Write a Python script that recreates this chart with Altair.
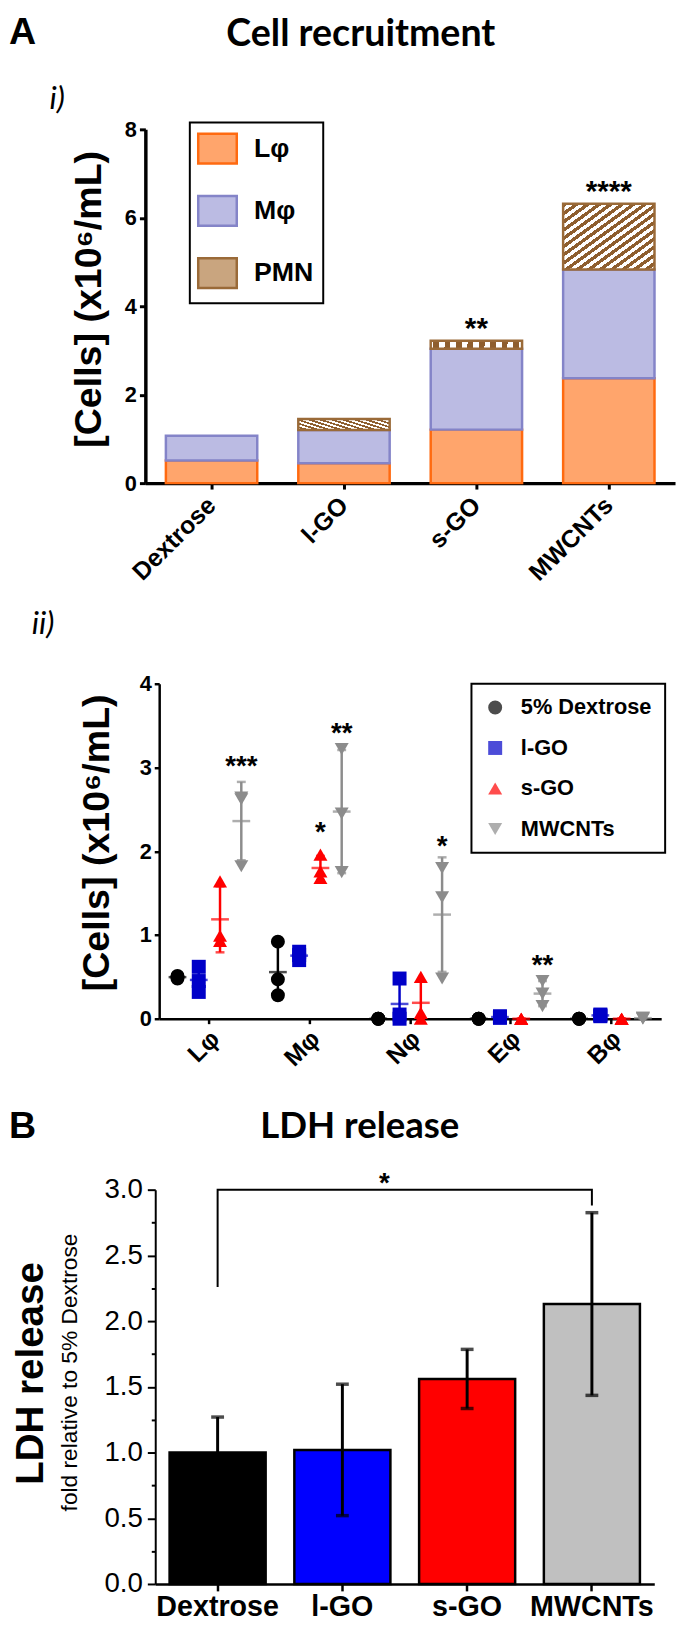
import altair as alt
import pandas as pd

# ---------------- data : panel A i) ----------------
a1_groups = ["Dextrose", "l-GO", "s-GO", "MWCNTs"]
a1_cells = ["Lφ", "Mφ", "PMN"]
a1_L = [0.51, 0.45, 1.21, 2.37]
a1_M = [0.56, 0.75, 1.83, 2.46]
a1_P = [0.00, 0.25, 0.18, 1.49]
a1_sig = ["", "", "**", "****"]
a1_ticks = [0, 2, 4, 6, 8]

# ---------------- data : panel A ii) ----------------
a2_cells = ["Lφ", "Mφ", "Nφ", "Eφ", "Bφ"]
a2_groups = ["5% Dextrose", "l-GO", "s-GO", "MWCNTs"]
a2_dex = [[0.50, 0.48, 0.51], [0.28, 0.92, 0.47], [0.0, 0.0, 0.0], [0.0, 0.0, 0.0], [0.0, 0.0, 0.0]]
a2_lgo = [[0.32, 0.62, 0.45], [0.80, 0.70, 0.76], [0.00, 0.48, 0.05], [0.02, 0.03, 0.01], [0.05, 0.04, 0.03]]
a2_sgo = [[0.93, 1.64, 0.99], [1.68, 1.96, 1.76], [0.00, 0.50, 0.07], [0.0, 0.0, 0.0], [0.0, 0.0, 0.0]]
a2_mw = [[2.64, 1.82, 2.62], [3.22, 2.45, 1.75], [1.80, 1.45, 0.48], [0.15, 0.45, 0.30], [0.01, 0.00, 0.01]]
a2_sig_cell = ["Lφ", "Mφ", "Mφ", "Nφ", "Eφ"]
a2_sig_group = ["MWCNTs", "s-GO", "MWCNTs", "MWCNTs", "MWCNTs"]
a2_sig_text = ["***", "*", "**", "*", "**"]
a2_sig_y = [3.10, 2.31, 3.49, 2.14, 0.72]
a2_ticks = [0, 1, 2, 3, 4]

# ---------------- data : panel B ----------------
b_groups = ["Dextrose", "l-GO", "s-GO", "MWCNTs"]
b_mean = [1.00, 1.02, 1.56, 2.13]
b_err = [0.27, 0.50, 0.225, 0.695]
b_ticks = [0, 0.25, 0.5, 0.75, 1.0, 1.25, 1.5, 1.75, 2.0, 2.25, 2.5, 2.75, 3.0]
b_br_group = ["Dextrose", "Dextrose", "MWCNTs", "MWCNTs"]
b_br_y = [2.26, 3.0, 3.0, 2.88]
b_star_y = [3.10]

# ---------------- styles ----------------
FONT = "Liberation Sans"
TFONT = "Lato"
W, H = 677, 1641
OX, OY = 8, 8


def px(x):
    return x - OX


def py(y):
    return y - OY


a1_fill = ["#FFA56C", "#BBBBE3", "#C9A57F"]
a1_stroke = ["#FF6A10", "#8484C8", "#9A6A38"]
a2_colors = ["#000000", "#0000C8", "#FF0000", "#8C8C8C"]
a2_shapes = ["circle", "square", "triangle-up", "triangle-down"]
b_colors = ["#000000", "#0000FF", "#FF0000", "#C0C0C0"]
BROWN = "#8E5E2E"


def stripe_stops(n):
    s = []
    for k in range(n):
        s += [
            {"offset": k / n, "color": BROWN},
            {"offset": (k + 0.5) / n, "color": BROWN},
            {"offset": (k + 0.5) / n, "color": "#FFFFFF"},
            {"offset": (k + 1) / n, "color": "#FFFFFF"},
        ]
    return s


pmn_grad = {"gradient": "linear", "x1": 0, "y1": 0, "x2": 1, "y2": 1, "stops": stripe_stops(16)}

# ================= PANEL A i) =================
rows = []
for i, g in enumerate(a1_groups):
    for j, vals in enumerate([a1_L, a1_M, a1_P]):
        rows.append({"group": g, "cell": a1_cells[j], "value": vals[i], "ord": j})
dfA1 = pd.DataFrame(rows)
dfA1sig = pd.DataFrame({
    "group": a1_groups,
    "label": a1_sig,
    "value": [a1_L[i] + a1_M[i] + a1_P[i] for i in range(4)],
})

xA1 = alt.Scale(domain=a1_groups, range=[px(147), px(683)], paddingInner=0.31, paddingOuter=0.155)
yA1 = alt.Scale(domain=[0, 8], range=[py(479), py(121)], nice=False)
axA1x = alt.Axis(title=None, orient="bottom", offset=py(479) - H, labelAngle=-45, labelAlign="right",
                 labelBaseline="middle", labelFont=FONT, labelFontSize=25, labelFontWeight="bold",
                 labelColor="black", labelPadding=12, tickSize=6, tickWidth=3, tickColor="black",
                 domainColor="black", domainWidth=3.5, grid=False, labelLimit=0, labelOverlap=False)
axA1y = alt.Axis(title=None, orient="left", offset=-px(147), values=a1_ticks, labelFont=FONT,
                 labelFontSize=22, labelFontWeight="bold", labelColor="black", labelPadding=3,
                 tickSize=6, tickWidth=3, tickColor="black", domainColor="black", domainWidth=3.5,
                 grid=False, labelOverlap=False)
legA1 = alt.Legend(title=None, orient="none", legendX=px(192), legendY=py(114), padding=10,
                   strokeColor="black", fillColor="white",
                   symbolType="M-1.2,-1H1.4V1H-1.2Z",
                   symbolSize=900, symbolStrokeWidth=2.5, labelFont=FONT, labelFontSize=27,
                   labelFontWeight="bold", labelColor="black", rowPadding=22, labelOffset=22,
                   labelLimit=0)

barsA1 = alt.Chart(dfA1).transform_filter("datum.value > 0").mark_bar(strokeWidth=2.5).encode(
    x=alt.X("group:N", scale=xA1, axis=axA1x),
    y=alt.Y("value:Q", stack="zero", scale=yA1, axis=axA1y),
    order=alt.Order("ord:Q", sort="ascending"),
    fill=alt.condition("datum.cell === 'PMN'", alt.value(pmn_grad),
                       alt.Fill("cell:N", scale=alt.Scale(domain=a1_cells, range=a1_fill), legend=legA1)),
    stroke=alt.Stroke("cell:N", scale=alt.Scale(domain=a1_cells, range=a1_stroke), legend=legA1),
)
sigA1 = alt.Chart(dfA1sig).mark_text(font=FONT, fontSize=30, fontWeight="bold", dy=-3,
                                     baseline="alphabetic", color="black").encode(
    x=alt.X("group:N", scale=xA1, axis=axA1x),
    y=alt.Y("value:Q", scale=yA1, axis=axA1y),
    text="label:N",
)
A1 = alt.layer(barsA1, sigA1)

# ================= PANEL A ii) =================
rows = []
for g, arr in zip(a2_groups, [a2_dex, a2_lgo, a2_sgo, a2_mw]):
    for ci, c in enumerate(a2_cells):
        for r, v in enumerate(arr[ci]):
            rows.append({"cell": c, "group": g, "rep": r, "value": v})
dfA2 = pd.DataFrame(rows)
dfA2sig = pd.DataFrame({"cell": a2_sig_cell, "group": a2_sig_group, "label": a2_sig_text, "value": a2_sig_y})

xA2 = alt.Scale(domain=a2_cells, range=[px(161), px(669)], paddingInner=0, paddingOuter=0)
xoA2 = alt.Scale(domain=a2_groups, paddingInner=0, paddingOuter=0.36)
yA2 = alt.Scale(domain=[0, 4], range=[py(1021), py(682)], nice=False)
axA2x = alt.Axis(title=None, orient="bottom", offset=py(1021) - H, labelAngle=-45, labelAlign="right",
                 labelBaseline="middle", labelFont=FONT, labelFontSize=25, labelFontWeight="bold",
                 labelColor="black", labelPadding=11, labelOffset=6, tickSize=5, tickWidth=2.5,
                 tickColor="black", domainColor="black", domainWidth=2.5, grid=False, labelLimit=0,
                 labelOverlap=False)
axA2y = alt.Axis(title=None, orient="left", offset=-px(161), values=a2_ticks, labelFont=FONT,
                 labelFontSize=22, labelFontWeight="bold", labelColor="black", labelPadding=3,
                 tickSize=5, tickWidth=2.5, tickColor="black", domainColor="black", domainWidth=2.5,
                 grid=False, labelOverlap=False)
legA2 = alt.Legend(title=None, orient="none", legendX=px(477), legendY=py(682), padding=13,
                   strokeColor="black", fillColor="white", symbolSize=200,
                   symbolStrokeWidth=0, labelFont=FONT, labelFontSize=22, labelFontWeight="bold",
                   labelColor="black", rowPadding=19, labelOffset=15, labelLimit=0)

X2 = alt.X("cell:N", scale=xA2, axis=axA2x)
XO2 = alt.XOffset("group:N", scale=xoA2)
clr_expr = "[" + ",".join("'%s'" % c for c in a2_colors) + "][indexof([" + \
    ",".join("'%s'" % g for g in a2_groups) + "], datum.group)]"

err = alt.Chart(dfA2).transform_aggregate(
    mean="mean(value)", sd="stdev(value)", groupby=["cell", "group"]
).transform_calculate(
    lo="max(0, datum.mean - datum.sd)", hi="datum.mean + datum.sd", clr=clr_expr
)
ruleA2 = err.mark_rule(strokeWidth=2.5).encode(
    x=X2, xOffset=XO2, y=alt.Y("lo:Q", scale=yA2, axis=axA2y), y2="hi:Q",
    color=alt.Color("clr:N", scale=None))
meanA2 = err.mark_tick(size=18, thickness=2.5).encode(
    x=X2, xOffset=XO2, y=alt.Y("mean:Q", scale=yA2, axis=axA2y), color=alt.Color("clr:N", scale=None))
hiA2 = err.mark_tick(size=9, thickness=2.5).encode(
    x=X2, xOffset=XO2, y=alt.Y("hi:Q", scale=yA2, axis=axA2y), color=alt.Color("clr:N", scale=None))
loA2 = err.mark_tick(size=9, thickness=2.5).encode(
    x=X2, xOffset=XO2, y=alt.Y("lo:Q", scale=yA2, axis=axA2y), color=alt.Color("clr:N", scale=None))

pts = []
for r, dx in enumerate([-5, 0, 5]):
    pts.append(
        alt.Chart(dfA2).transform_filter("datum.rep == %d" % r).mark_point(
            filled=True, size=200, opacity=1, xOffset=dx).encode(
            x=X2, xOffset=XO2, y=alt.Y("value:Q", scale=yA2, axis=axA2y),
            color=alt.Color("group:N", scale=alt.Scale(domain=a2_groups, range=a2_colors), legend=legA2),
            shape=alt.Shape("group:N", scale=alt.Scale(domain=a2_groups, range=a2_shapes), legend=legA2),
        )
    )
sigA2 = alt.Chart(dfA2sig).mark_text(font=FONT, fontSize=28, fontWeight="bold", dy=16,
                                     baseline="alphabetic", color="black").encode(
    x=X2, xOffset=XO2, y=alt.Y("value:Q", scale=yA2, axis=axA2y), text="label:N")
A2 = alt.layer(ruleA2, meanA2, hiA2, loA2, *pts, sigA2)

# ================= PANEL B =================
dfB = pd.DataFrame({"group": b_groups, "mean": b_mean, "err": b_err})
dfBbr = pd.DataFrame({"group": b_br_group, "mean": b_br_y, "ord": [0, 1, 2, 3]})
dfBstar = pd.DataFrame({"mean": b_star_y, "label": ["*"]})

B_TOP, B_BOT = 1194, 1593
xB = alt.Scale(domain=b_groups, range=[px(157), px(662)], paddingInner=0.23, paddingOuter=0.115)
yB = alt.Scale(domain=[0, 3], range=[py(B_BOT), py(B_TOP)], nice=False)
axBx = alt.Axis(title=None, orient="bottom", offset=py(B_BOT) - H, labelAngle=0, labelFont=FONT,
                labelFontSize=29, labelFontWeight="bold", labelColor="black", labelPadding=2,
                tickSize=7, tickWidth=2.5, tickColor="black", domainColor="black", domainWidth=2.5,
                grid=False, labelLimit=0, labelOverlap=False)
axBy = alt.Axis(title=None, orient="left", offset=-px(157), values=b_ticks,
                labelExpr="datum.value % 0.5 === 0 ? format(datum.value, '.1f') : ''",
                tickSize={"condition": {"test": "datum.value % 0.5 !== 0", "value": 4}, "value": 8},
                labelFont=FONT, labelFontSize=28,
                labelColor="black", labelPadding=5, tickWidth=2, tickColor="black",
                domainColor="black", domainWidth=2, grid=False, labelOverlap=False)
XB = alt.X("group:N", scale=xB, axis=axBx)

barsB = alt.Chart(dfB).mark_bar(stroke="black", strokeWidth=2.5).encode(
    x=XB, y=alt.Y("mean:Q", scale=yB, axis=axBy),
    fill=alt.Fill("group:N", scale=alt.Scale(domain=b_groups, range=b_colors), legend=None))
errB = alt.Chart(dfB).transform_calculate(lo="datum.mean - datum.err", hi="datum.mean + datum.err")
ruleB = errB.mark_rule(strokeWidth=3, color="black").encode(
    x=XB, y=alt.Y("lo:Q", scale=yB, axis=axBy), y2="hi:Q")
hiB = errB.mark_tick(size=13, thickness=3.5, color="black").encode(
    x=XB, y=alt.Y("hi:Q", scale=yB, axis=axBy))
loB = errB.mark_tick(size=13, thickness=3.5, color="black").encode(
    x=XB, y=alt.Y("lo:Q", scale=yB, axis=axBy))
brB = alt.Chart(dfBbr).mark_line(color="black", strokeWidth=2).encode(
    x=XB, y=alt.Y("mean:Q", scale=yB, axis=axBy), order="ord:Q")
starB = alt.Chart(dfBstar).mark_text(font=FONT, fontSize=28, fontWeight="bold", dy=16,
                                     baseline="alphabetic", color="black").encode(
    x=alt.value(px(389)), y=alt.Y("mean:Q", scale=yB, axis=axBy), text="label:N")
B = alt.layer(barsB, ruleB, hiB, loB, brB, starB)

# ================= free texts =================


def txt(s, x, y, size, weight="bold", font=FONT, style="normal", angle=0, align="left"):
    return alt.Chart(pd.DataFrame({"t": [s]})).mark_text(
        font=font, fontSize=size, fontWeight=weight, fontStyle=style, angle=angle, align=align,
        baseline="alphabetic" if angle == 0 else "middle", color="black"
    ).encode(x=alt.value(px(x)), y=alt.value(py(y)), text="t:N")


texts = [
    txt("A", 9, 35, 38),
    txt("Cell recruitment", 365, 37, 38, font=TFONT, align="center"),
    txt("i)", 50, 100, 32, weight="normal", font=TFONT, style="italic"),
    txt("[Cells] (x10⁶/mL)", 91, 293, 38, angle=270, align="center"),
    txt("ii)", 32, 632, 32, weight="normal", font=TFONT, style="italic"),
    txt("[Cells] (x10⁶/mL)", 99, 843, 38, angle=270, align="center"),
    txt("B", 9, 1142, 38),
    txt("LDH release", 364, 1142, 37, font=TFONT, align="center"),
    txt("LDH release", 31, 1380, 39, angle=270, align="center"),
    txt("fold relative to 5% Dextrose", 71, 1379, 23, weight="normal", angle=270, align="center"),
]

chart = alt.layer(A1, A2, B, *texts).resolve_scale(
    x="independent", y="independent", xOffset="independent", color="independent",
    shape="independent", fill="independent", stroke="independent"
).resolve_axis(x="independent", y="independent").resolve_legend(
    color="independent", shape="independent", fill="independent", stroke="independent"
).properties(
    width=W, height=H, autosize=alt.AutoSizeParams(type="none"), padding=0
).configure_view(stroke=None).configure_legend(strokeWidth=2)

chart.save("out.html", embed_options={"renderer": "svg", "actions": False})
